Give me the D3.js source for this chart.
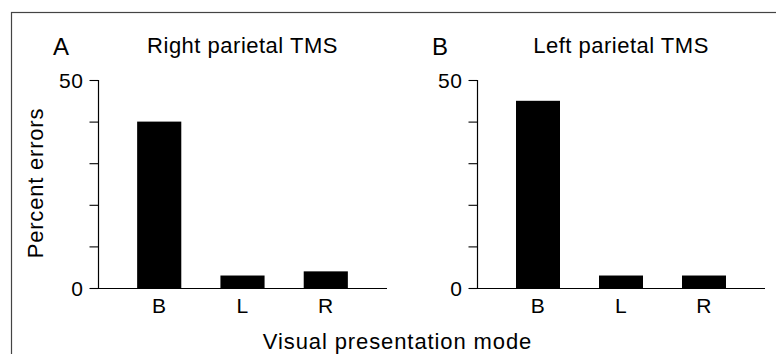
<!DOCTYPE html>
<html>
<head>
<meta charset="utf-8">
<script src="https://cdn.jsdelivr.net/npm/d3@7"></script>
<style>
  html, body { margin: 0; padding: 0; background: #fff; }
  svg { display: block; font-family: "Liberation Sans", Arial, Helvetica, sans-serif; }
</style>
</head>
<body>
<svg id="chart" width="776" height="354"></svg>
<script>
const categories = ["B", "L", "R"];
const rightParietal = [40, 3, 4];
const leftParietal = [45, 3, 3];
const yTicks = [0, 10, 20, 30, 40, 50];
const yTickLabels = ["0", "", "", "", "", "50"];
const panelLetters = ["A", "B"];
const panelTitles = ["Right parietal TMS", "Left parietal TMS"];
const yTitle = "Percent errors";
const xTitle = "Visual presentation mode";

const svg = d3.select("#chart");

// outer frame (right/bottom edges outside the view)
svg.append("rect")
  .attr("x", 11.5).attr("y", 12.5)
  .attr("width", 800).attr("height", 400)
  .attr("fill", "none").attr("stroke", "#444").attr("stroke-width", 1.2);

const panels = [
  { x0: 98, x1: 387, values: rightParietal, letter: panelLetters[0], title: panelTitles[0] },
  { x0: 477, x1: 765, values: leftParietal, letter: panelLetters[1], title: panelTitles[1] }
];

const y = d3.scaleLinear().domain([0, 50]).range([288, 80]);

panels.forEach(p => {
  const x = d3.scaleBand().domain(categories).range([p.x0, p.x1])
    .paddingInner(0.47).paddingOuter(0.47);
  const g = svg.append("g");

  // bars
  g.selectAll("rect.bar").data(categories).join("rect")
    .attr("class", "bar")
    .attr("x", d => x(d))
    .attr("width", x.bandwidth())
    .attr("y", (d, i) => y(p.values[i]))
    .attr("height", (d, i) => y(0) - y(p.values[i]))
    .attr("fill", "#000");

  // y axis
  const yAxis = d3.axisLeft(y).tickValues(yTicks)
    .tickFormat((d, i) => yTickLabels[i]).tickSize(9).tickPadding(6);
  const ya = g.append("g").attr("transform", `translate(${p.x0 + 0.5},0)`).call(yAxis);
  ya.select(".domain").attr("d", `M0,${y(50)}V${y(0)}`).attr("stroke", "#000").attr("stroke-width", 1.2);
  ya.selectAll(".tick line").attr("stroke", "#000").attr("stroke-width", 1.1);
  ya.selectAll(".tick text").attr("fill", "#000")
    .style("font-size", "21px").style("letter-spacing", "0.6px")
    .attr("dy", "0.35em");

  // x axis
  const xAxis = d3.axisBottom(x).tickSize(0).tickPadding(10);
  const xa = g.append("g").attr("transform", `translate(0,${y(0) + 0.5})`).call(xAxis);
  xa.select(".domain").attr("d", `M${p.x0},0H${p.x1}`).attr("stroke", "#000").attr("stroke-width", 1.2);
  xa.selectAll(".tick text").attr("fill", "#000")
    .style("font-size", "21px").style("letter-spacing", "0.5px")
    .attr("dy", "0.71em");

  // panel title
  g.append("text")
    .attr("x", (p.x0 + p.x1) / 2).attr("y", 53)
    .attr("text-anchor", "middle")
    .style("font-size", "22px").style("letter-spacing", "0.5px")
    .text(p.title);

  // panel letter
  g.append("text")
    .attr("x", p.x0 - 45).attr("y", 55)
    .style("font-size", "24px")
    .text(p.letter);
});

// y axis title
svg.append("text")
  .attr("transform", `translate(43,${183}) rotate(-90)`)
  .attr("text-anchor", "middle")
  .style("font-size", "22px").style("letter-spacing", "0.8px")
  .text(yTitle);

// x axis title
svg.append("text")
  .attr("x", 397.5).attr("y", 349)
  .attr("text-anchor", "middle")
  .style("font-size", "22px").style("letter-spacing", "0.9px")
  .text(xTitle);
</script>
</body>
</html>
